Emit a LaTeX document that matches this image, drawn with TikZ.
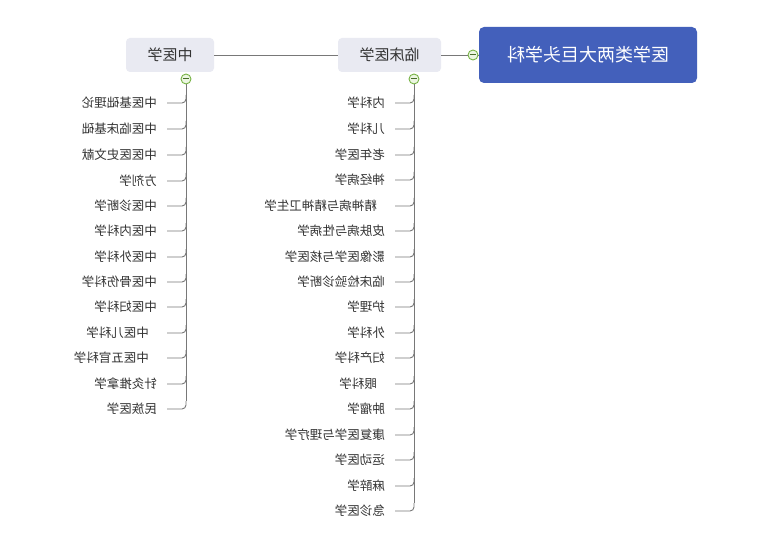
\documentclass[tikz,border=0pt]{standalone}
\usepackage{fontspec}
\usepackage{graphicx}
\newfontfamily\cjk{Noto Sans CJK SC}
\definecolor{rootblue}{RGB}{67,96,187}
\definecolor{boxgray}{RGB}{233,234,242}
\definecolor{linegray}{RGB}{120,120,120}
\definecolor{txtgray}{RGB}{51,51,51}
\definecolor{knobgreen}{RGB}{120,180,70}
\definecolor{knobfill}{RGB}{236,246,226}
\tikzset{
  rootbox/.style={fill=rootblue, rounded corners=5pt, minimum width=218pt, minimum height=56pt, inner sep=0pt, text=white, font=\cjk\fontsize{18}{20}\selectfont},
  topicbox/.style={fill=boxgray, rounded corners=4pt, minimum height=34pt, inner sep=0pt, text=txtgray, font=\cjk\fontsize{15}{17}\selectfont},
  leaf/.style={anchor=east, inner sep=0pt, text=txtgray, font=\cjk\fontsize{12.5}{14}\selectfont},
  conn/.style={draw=linegray, line width=0.9pt},
  knob/.style={circle, draw=knobgreen, line width=0.9pt, fill=knobfill, minimum size=10pt, inner sep=0pt,
    path picture={\draw[knobgreen!60!black, line width=1pt] ([xshift=-3pt]path picture bounding box.center) -- ([xshift=3pt]path picture bounding box.center);}}
}
\newcommand{\mir}[1]{\reflectbox{#1}}
\begin{document}
\begin{tikzpicture}[x=1pt,y=-1pt]
\useasboundingbox[fill=white] (0,0) rectangle (760,548);
% main nodes
\node[rootbox] (root) at (588,55) {\mir{医学类两大巨头学科}};
\node[topicbox, minimum width=103pt] (lc) at (389.5,55) {\mir{临床医学}};
\node[topicbox, minimum width=88pt] (zy) at (170,55) {\mir{中医学}};
\node[knob] (rk) at (473,55) {};
\node[knob] (lck) at (414,79) {};
\node[knob] (zyk) at (186,79) {};
\draw[conn] (root.west) -- (rk.east);
\draw[conn] (rk.west) -- (lc.east);
\draw[conn] (lc.west) -- (zy.east);
% left branch (中医学)
\coordinate (zv) at (186,0);
\foreach \t/\x/\y [count=\i] in {
  中医基础理论/157/103, 中医临床基础/157/129, 中医医史文献/157/155, 方剂学/157/181,
  中医诊断学/157/206, 中医内科学/157/231, 中医外科学/157/257, 中医骨伤科学/157/282,
  中医妇科学/157/307, 中医儿科学/149/333, 中医五官科学/149/358, 针灸推拿学/157/384,
  民族医学/157/409}{
  \node[leaf] (z\i) at (\x,\y) {\mir{\t}};
  \coordinate (zt\i) at (167,\y);
  \draw[conn, rounded corners=4pt] (zt\i) -- (zt\i -| zv) -- ++(0,-8);
}
\draw[conn] (zyk.south) -- ([yshift=8pt]zt13 -| zv);
% right branch (临床医学)
\coordinate (lv) at (414,0);
\foreach \t/\x/\y [count=\i] in {
  内科学/385/103, 儿科学/385/129, 老年医学/385/155, 神经病学/385/180,
  精神病与精神卫生学/377/206, 皮肤病与性病学/385/231, 影像医学与核医学/385/257,
  临床检验诊断学/385/282, 护理学/385/307, 外科学/385/333, 妇产科学/385/358,
  眼科学/377/384, 肿瘤学/385/409, 康复医学与理疗学/385/435, 运动医学/385/460,
  麻醉学/385/486, 急诊医学/385/511}{
  \node[leaf] (r\i) at (\x,\y) {\mir{\t}};
  \coordinate (rt\i) at (395,\y);
  \draw[conn, rounded corners=4pt] (rt\i) -- (rt\i -| lv) -- ++(0,-8);
}
\draw[conn] (lck.south) -- ([yshift=8pt]rt17 -| lv);
\end{tikzpicture}
\end{document}
